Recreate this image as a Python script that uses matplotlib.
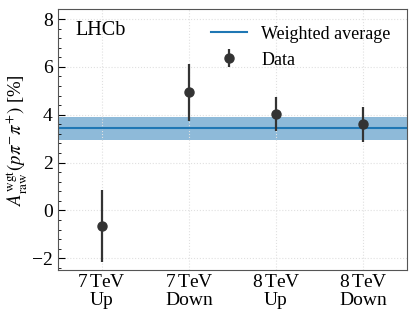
import numpy as np
import matplotlib
matplotlib.use('Agg')
import matplotlib.pyplot as plt

plt.rcParams['font.family'] = ['Liberation Serif', 'DejaVu Serif']
plt.rcParams['mathtext.fontset'] = 'stix'
plt.rcParams['font.size'] = 14

# data
labels = ['7TeV\nUp', '7TeV\nDown', '8TeV\nUp', '8TeV\nDown']
values = [-0.66, 4.93, 4.03, 3.61]
errors = [1.5, 1.2, 0.73, 0.73]
avg = 3.43
avg_err_lo = 2.95
avg_err_hi = 3.92

fig, ax = plt.subplots(figsize=(4.15, 3.16), dpi=100)
x = np.arange(len(labels))

ax.axhspan(avg_err_lo, avg_err_hi, color='#1f77b4', alpha=0.5, lw=0)
ax.axhline(avg, color='#1f77b4', lw=1.5, label='Weighted average')
ax.errorbar(x, values, yerr=errors, fmt='o', color='#333333', ms=6.5, elinewidth=1.6, label='Data')

ax.set_xlim(-0.5, 3.5)
ax.set_ylim(-2.5, 8.4)
ax.set_xticks(x)
ax.set_xticklabels([l.replace('TeV', r'$\,$TeV') for l in labels], linespacing=1.05)
ax.set_yticks([-2, 0, 2, 4, 6, 8])
ax.set_yticks(np.arange(-2.4, 8.4, 0.4), minor=True)
ax.tick_params(axis='y', which='both', direction='in')
ax.tick_params(axis='x', which='both', length=0, pad=3)
ax.tick_params(axis='y', which='major', length=5, pad=4)
ax.tick_params(axis='y', which='minor', length=2.5)
ax.grid(True, linestyle=':', color='#e0e0e0', lw=0.8)
for s in ax.spines.values():
    s.set_color('#555555')

ax.set_ylabel(r'$A_{\rm raw}^{\rm wgt}(p\pi^{-}\pi^{+})$ [%]', fontsize=13.5, labelpad=2)
ax.text(0.05, 0.955, 'LHCb', transform=ax.transAxes, fontsize=14.5, va='top')

h, l = ax.get_legend_handles_labels()
ax.legend(h, l, loc='upper right', frameon=False, fontsize=13,
          borderaxespad=0.5, handletextpad=0.8, labelspacing=0.5)

fig.subplots_adjust(left=0.14, right=0.98, bottom=0.145, top=0.97)
plt.savefig('out.png', dpi=100)
